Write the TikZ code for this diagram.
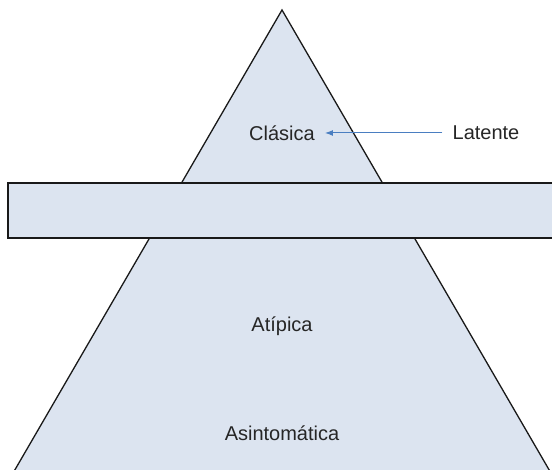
\documentclass[tikz,border=0pt]{standalone}
\usepackage{fontspec}
\setmainfont{Liberation Sans}
\usetikzlibrary{arrows.meta}
\definecolor{paleblue}{RGB}{220,228,240}
\definecolor{edge}{RGB}{25,25,25}
\definecolor{arrowblue}{RGB}{74,126,193}
\tikzset{
  region/.style={fill=paleblue, draw=edge, line width=1.3pt, line join=miter},
  caption/.style={font=\fontsize{20}{24}\selectfont, text=black!85, inner sep=0pt},
  link/.style={draw=arrowblue, line width=1pt, -{Latex[length=8pt,width=6pt]}, shorten <=10pt, shorten >=10pt}
}
\begin{document}
\begin{tikzpicture}[x=1pt,y=1pt]
  \useasboundingbox (0,0) rectangle (552,470);
  \clip (0,0) rectangle (552,470);
  % pyramid
  \path[region] (282,460) -- (555,-10) -- (9,-10) -- cycle;
  % horizontal band
  \path[region] (8,232) rectangle (570,287);
  % labels
  \node[caption] (clasica) at (282,337) {Clásica};
  \node[caption] (latente) at (486,337) {Latente};
  \node[caption] (atipica) at (282,144) {Atípica};
  \node[caption] (asinto) at (282,37) {Asintomática};
  \draw[link] (latente.west) -- (clasica.east);
\end{tikzpicture}
\end{document}
